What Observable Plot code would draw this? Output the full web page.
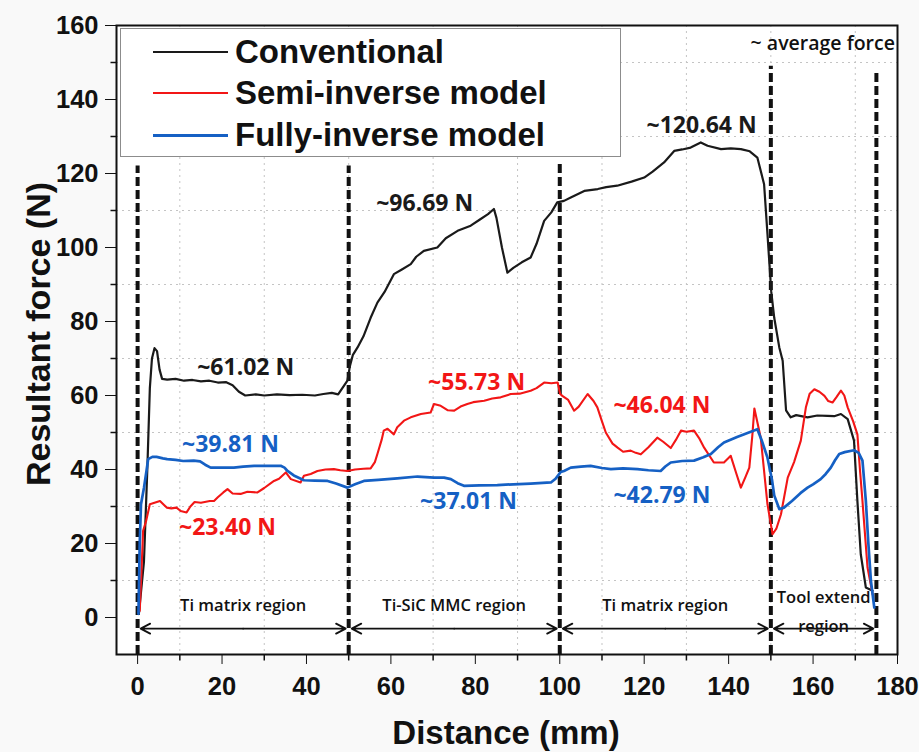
<!DOCTYPE html>
<html><head><meta charset="utf-8">
<script src="https://cdn.jsdelivr.net/npm/d3@7"></script>
<script src="https://cdn.jsdelivr.net/npm/@observablehq/plot@0.6"></script>
<style>
body{margin:0;background:#f9f9f9;}
#wrap{position:relative;width:919px;height:752px;overflow:hidden;font-family:"Liberation Sans",Arial,sans-serif;}
#legend{position:absolute;left:120px;top:28px;width:501px;height:129px;background:#fff;border:1px solid #8c8c8c;box-sizing:border-box;}
.row{position:absolute;left:0;height:40px;display:flex;align-items:center;}
.sw{width:75px;margin-left:32px;margin-right:7px;}
.lab{font-weight:bold;font-size:33px;color:#111;white-space:nowrap;}
.title{position:absolute;font-weight:bold;color:#111;white-space:nowrap;}
</style></head>
<body><div id="wrap"></div>
<script>
// ---- data ----
const convX = [0.3,1.5,2.3,2.9,3.4,4.0,4.6,5.2,5.8,7,9,11,13,15,17,19,21,22.5,24,25.5,28,30,33,36,39,42,44,46,47.5,48.5,49.7,50.3,51,52.1,53.5,55.2,56.8,58.5,60.7,62.5,64.7,66,67.8,71,73,75.8,78.9,81,83,84.4,85,86.3,87.6,89,91,93.1,94.5,96.3,98,99.4,101,102.6,105.8,109,111,113.6,117,120,122,124.7,127.1,129,131,133.4,135,138.2,140.5,142.9,145,146.8,148.4,149.2,150.1,150.8,152,152.8,153.6,154.7,156,158.7,161,163.4,165,166.6,168.2,169.7,170.5,171.3,172.5,174.1];
const convY = [1,15,40,62,70,72.8,72,67,64.5,64.3,64.5,64,64.2,63.8,64,63.5,63.6,62.8,61,60,60.3,60,60.3,60.1,60.2,60,60.4,60.7,60.3,62,64,68,71,73,76,81,85.1,88,92.8,94,95.5,97.5,99.1,100,102.5,104.5,105.9,107.5,109,110.4,108,100,93.2,94.5,96,97.3,101,107.2,109.5,112.2,112.6,113.5,115.3,115.8,116.3,116.7,117.8,118.9,120.5,123,126.1,126.5,127,128.4,127.5,126.6,126.8,126.6,126,124.3,117.1,103.6,88,81,73,69.4,56,54.1,54.7,54.1,54.6,54.5,54.4,55,53.6,47.8,31.5,17.1,8.1,7.2];

const semiX = [0.5,0.9,1.3,2.0,2.9,4,5.3,6.2,6.9,8,9.2,10.2,11.6,12.5,13.5,15,17.1,18.1,19,20.3,21.3,22.5,24.4,26,28.4,30,32.3,33.5,35.1,36.3,38.6,39.4,41,42.6,44.5,46.5,48,49.7,51.5,53.5,55.2,56.2,56.8,57.8,58.3,59.2,60.7,61.5,63.1,64.7,67.1,69.4,70.2,71.8,73.5,75,76.5,78.1,79.5,82.1,84,86,88.4,90.5,93.1,94.5,96.3,98,99.5,100.1,100.6,102,103.4,104.5,106.6,108,108.9,110,110.9,112.5,113.7,115,116.8,118,119.2,121,123.1,124.5,126.3,127.5,128.7,130,131.8,133,134.2,136.5,138.9,140.5,141.8,142.9,144,144.9,145.6,146.1,147.6,149.2,150.4,151.3,152.4,154,155.5,157.1,158.3,159.2,160.3,161.5,162.7,163.6,164.6,165.5,166.6,167.4,168.2,169.5,170.5,171.1,171.7,172.9,174.1];
const semiY = [1.8,12,23.4,26,30.6,31,31.5,30.5,29.7,29.5,29.7,28.8,28.4,30,31.2,31,31.5,31.5,32.5,33.8,34.7,33.5,33.4,34,33.8,35,36.9,37.5,39.2,37.4,36.5,38.3,38.8,39.6,40,40.1,39.8,39.6,40,40.2,40.3,42,44.2,48,50.5,51,49.5,51.4,53.2,54.1,55,55.4,57.7,57.2,56,55.9,57,57.7,58.2,58.6,59.2,59.5,60.4,60.5,61.3,62,63.5,63.3,63.5,60.4,59.9,58.8,55.9,57,60.4,58.5,56.8,53,50,47,45.9,44.8,45.1,44.5,44.1,46,48.6,47.5,45.8,48,50.5,50.2,50.5,48.5,45.9,41.9,41.9,43.7,39,35.1,38,40.5,49,56.5,48.6,30.6,22.5,24,27.9,37.8,42,47.8,56.8,60.5,61.7,61,59.9,58.5,58.1,59.5,61.3,60,56.8,53,49.5,40,31.5,13.5,6.3];

const fullX = [0.2,0.5,0.8,1.5,2.1,2.5,3.5,4.5,6,7,9,10.8,13.3,14.8,16,17.3,20,22.8,25,27.6,30,33.9,34.8,35.5,37,39.4,42,45,47,49.7,51.5,53.6,57,61.5,66.3,70.2,72.6,74.2,75.8,77.3,81,85.2,89,93.1,97.9,99,100.2,101,102.6,105,107.3,110,112.1,115,118.4,121,123.9,125,126.3,129,131.8,134,135.8,137.5,138.9,142,146.8,147.8,149.2,150.3,150.8,152,153.1,155,157,158.7,160,161.8,163,164.2,165.2,166.2,167.5,169.7,170.8,171.7,172.5,173.1,173.7,174.5];
const fullY = [1,20,30.6,35,39.6,42.8,43.4,43.4,43,42.8,42.6,42.3,42.4,42.2,41.3,40.5,40.5,40.5,40.8,41,41,41,40.5,39.6,38.4,37.1,37,36.9,36.2,35.1,36,36.9,37.2,37.6,38.1,37.8,37.8,37.4,36.3,35.6,35.7,35.8,36,36.2,36.5,37.5,39.3,39.6,40.5,40.8,41,40.4,40.1,40.3,40.1,39.8,39.6,40.8,41.9,42.3,42.4,43.3,44.2,46,47.3,48.8,50.9,48,43.2,37,33,29.3,29.7,31.5,33.6,35.1,36,37.4,38.8,40.5,42.5,44.2,44.7,45.2,44.5,42.4,31.5,20,9.9,2.7];

const seriesNames = ["Conventional", "Semi-inverse model", "Fully-inverse model"];
const seriesColors = ["#1a1a1a", "#f21616", "#1560c4"];

const xMajor = [0,20,40,60,80,100,120,140,160,180];
const yMajor = [0,20,40,60,80,100,120,140,160];
const xMinor = [10,30,50,70,90,110,130,150,170];
const yMinor = [10,30,50,70,90,110,130,150];

const boundX = [0,50,100,150,175];
const boundTop = [122,122,123,149,148];

const regionStart = [0,50,100,150];
const regionEnd = [50,100,150,175];
const regionArrowY = -3;
const regionLabels = ["Ti matrix region","Ti-SiC MMC region","Ti matrix region","Tool extend","region"];
const regionLabelX = [25,75,125,162.5,162.5];
const regionLabelY = [3.2,3.2,3.2,5.3,-2.4];

const annText = ["~61.02 N","~96.69 N","~120.64 N","~55.73 N","~46.04 N","~23.40 N","~39.81 N","~37.01 N","~42.79 N"];
const annX = [25.6,68,133.6,80.3,124.2,21.3,22,78.4,124.2];
const annY = [67.4,111.8,132.9,63.4,57.2,24.2,46.7,31.2,33];
const annSeries = [0,0,0,1,1,1,2,2,2];

const noteText = ["~ average force"];
const noteX = [162.3];
const noteY = [155.2];

// ---- build ----
const toPts = (xs, ys) => xs.map((x, i) => ({x, y: ys[i]}));
const conv = toPts(convX, convY), semi = toPts(semiX, semiY), full = toPts(fullX, fullY);
const bounds = boundX.map((x, i) => ({x, top: boundTop[i]}));
const arrows = regionStart.flatMap((s, i) => {
  const m = (s + regionEnd[i]) / 2;
  return [{x1: m, x2: s, y: regionArrowY}, {x1: m, x2: regionEnd[i], y: regionArrowY}];
});
const regions = regionLabels.map((t, i) => ({t, x: regionLabelX[i], y: regionLabelY[i]}));
const anns = annText.map((t, i) => ({t, x: annX[i], y: annY[i], c: seriesColors[annSeries[i]]}));
const notes = noteText.map((t, i) => ({t, x: noteX[i], y: noteY[i]}));

const tickDown = {draw(ctx) { ctx.moveTo(0, 0); ctx.lineTo(0, 6); }};
const tickLeft = {draw(ctx) { ctx.moveTo(0, 0); ctx.lineTo(-6, 0); }};

const calibri = "'Open Sans', 'Noto Sans', sans-serif";

const chart = Plot.plot({
  width: 919, height: 752,
  marginLeft: 116, marginRight: 22, marginTop: 25, marginBottom: 98,
  style: {background: "transparent", fontFamily: "'Liberation Sans', Arial, sans-serif", fontSize: "25.5px", fontWeight: "bold", color: "#111", overflow: "visible"},
  x: {domain: [-5, 180], ticks: xMajor, tickSize: 10, tickPadding: 12, tickFormat: d => String(d), label: null},
  y: {domain: [-10, 160], ticks: yMajor, tickSize: 11, tickPadding: 7, tickFormat: d => String(d), label: null},
  marks: [
    Plot.frame({fill: "white", stroke: "none"}),
    Plot.ruleX(xMinor, {stroke: "#c4c4c4", strokeDasharray: "2,4", strokeWidth: 1}),
    Plot.ruleY(yMinor, {stroke: "#c4c4c4", strokeDasharray: "2,4", strokeWidth: 1}),
    Plot.ruleX(bounds, {x: "x", y1: -10, y2: "top", stroke: "#111", strokeWidth: 4, strokeDasharray: "9,4"}),
    Plot.line(conv, {x: "x", y: "y", stroke: seriesColors[0], strokeWidth: 2.2}),
    Plot.line(semi, {x: "x", y: "y", stroke: seriesColors[1], strokeWidth: 2.1}),
    Plot.line(full, {x: "x", y: "y", stroke: seriesColors[2], strokeWidth: 2.7}),
    Plot.arrow(arrows, {x1: "x1", x2: "x2", y1: "y", y2: "y", stroke: "#111", strokeWidth: 1.8, headLength: 9, headAngle: 55, insetEnd: 3}),
    Plot.text(regions, {x: "x", y: "y", text: "t", fontFamily: calibri, fontWeight: 600, fontSize: 16.5, fill: "#111"}),
    Plot.text(anns, {x: "x", y: "y", text: "t", fill: "c", fontFamily: calibri, fontWeight: 700, fontSize: 23}),
    Plot.text(notes, {x: "x", y: "y", text: "t", fontFamily: calibri, fontWeight: 600, fontSize: 19.5, fill: "#111"}),
    Plot.frame({stroke: "#111", strokeWidth: 2}),
    Plot.dot(xMinor, {x: d => d, frameAnchor: "bottom", symbol: tickDown, stroke: "#111", fill: "none", strokeWidth: 1.5}),
    Plot.dot(yMinor, {y: d => d, frameAnchor: "left", symbol: tickLeft, stroke: "#111", fill: "none", strokeWidth: 1.5})
  ]
});

const wrap = document.getElementById("wrap");
wrap.appendChild(chart);

// legend
const leg = document.createElement("div");
leg.id = "legend";
const rowCenters = [23, 64, 106];
const swW = [2, 2, 3];
seriesNames.forEach((name, i) => {
  const r = document.createElement("div");
  r.className = "row";
  r.style.top = (rowCenters[i] - 20) + "px";
  const sw = document.createElement("div");
  sw.className = "sw";
  sw.style.borderTop = swW[i] + "px solid " + seriesColors[i];
  const lab = document.createElement("span");
  lab.className = "lab";
  lab.textContent = name;
  r.appendChild(sw); r.appendChild(lab);
  leg.appendChild(r);
});
wrap.appendChild(leg);

// axis titles
const yt = document.createElement("div");
yt.className = "title";
yt.textContent = "Resultant force (N)";
yt.style.fontSize = "34px";
yt.style.left = "38px"; yt.style.top = "334px";
yt.style.transform = "translate(-50%,-50%) rotate(-90deg)";
wrap.appendChild(yt);
const xt = document.createElement("div");
xt.className = "title";
xt.textContent = "Distance (mm)";
xt.style.fontSize = "33px";
xt.style.left = "506px"; xt.style.top = "733px";
xt.style.transform = "translate(-50%,-50%)";
wrap.appendChild(xt);
</script>
</body></html>
